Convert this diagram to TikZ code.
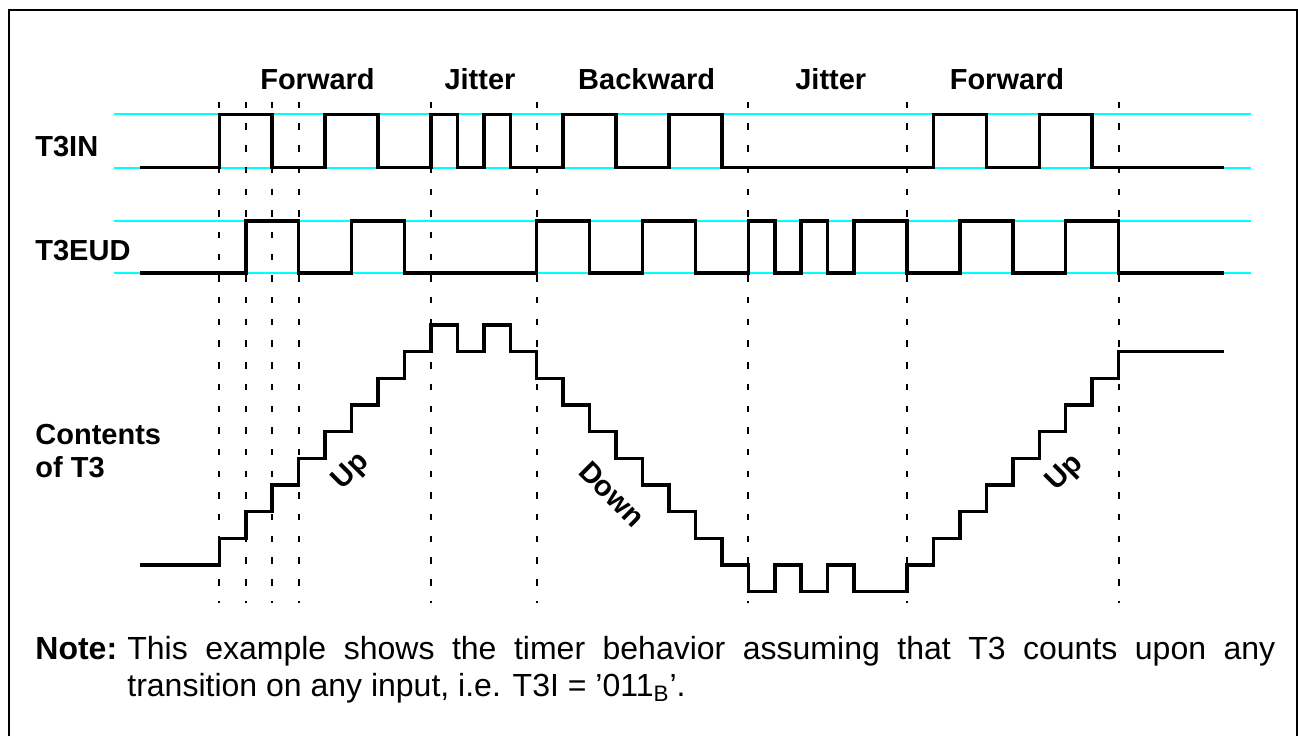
\documentclass[tikz,border=0pt]{standalone}
\usepackage{fontspec}
\setmainfont{Liberation Sans}
\usetikzlibrary{positioning}
\definecolor{guidecyan}{RGB}{0,255,255}

\begin{document}
\begin{tikzpicture}[x=0.5pt, y=-0.5pt,
    signal/.style={line width=1.75pt},
    guide/.style={guidecyan, line width=0.9pt},
    marker/.style={line width=1pt, dash pattern=on 3.2pt off 7.65pt},
    label/.style={font=\fontsize{14.5pt}{17pt}\selectfont\bfseries, inner sep=0pt},
    notebold/.style={font=\fontsize{16pt}{18pt}\selectfont\bfseries, inner sep=0pt},
    notetext/.style={font=\fontsize{16pt}{18pt}\selectfont, inner sep=0pt}
]
    % Canvas and frame
    \path[use as bounding box, fill=white] (0,0) rectangle (1298,736);
    \draw[line width=1pt] (9,736) -- (9,10) -- (1296.5,10) -- (1296.5,736);

    % Phase headings
    \node[label, anchor=base] (fwdA) at (317.5,89) {Forward};
    \node[label, anchor=base] (jitA) at (480,89) {Jitter};
    \node[label, anchor=base] (bwd)  at (646.7,89) {Backward};
    \node[label, anchor=base] (jitB) at (830.8,89) {Jitter};
    \node[label, anchor=base] (fwdB) at (1007,89) {Forward};

    % Signal names
    \node[label, anchor=base west] (nameIN)   at (35,156) {T3IN};
    \node[label, anchor=base west] (nameEUD)  at (35,260) {T3EUD};
    \node[label, anchor=base west] (nameCntA) at (35,444) {Contents};
    \node[label, anchor=base west] (nameCntB) at (35,477) {of T3};

    % Count direction
    \node[label, rotate=45]  (dirUpA) at (351.7,471.7) {Up};
    \node[label, rotate=-45] (dirDown) at (612,494) {Down};
    \node[label, rotate=45]  (dirUpB) at (1065,473.3) {Up};

    \begin{scope}[shift={(219.3,565)}, x=13.225pt, y=13.335pt]
        % Guide levels
        \foreach \lvl in {10.94, 12.9, 14.9, 16.9}
            \draw[guide] (-4,\lvl) -- (39,\lvl);

        % Event markers
        \foreach \t in {0,1,2,3,8,12,20,26,34}
            \draw[marker] (\t,17.37) -- (\t,-1.42);

        % T3IN
        \draw[signal] (-3,14.9)
            \foreach \a/\b in {0/2, 4/6, 8/9, 10/11, 13/15, 17/19, 27/29, 31/33}
                { -- (\a,14.9) -- (\a,16.9) -- (\b,16.9) -- (\b,14.9) }
            -- (38,14.9);

        % T3EUD
        \draw[signal] (-3,10.94)
            \foreach \a/\b in {1/3, 5/7, 12/14, 16/18, 20/21, 22/23, 24/26, 28/30, 32/34}
                { -- (\a,10.94) -- (\a,12.9) -- (\b,12.9) -- (\b,10.94) }
            -- (38,10.94);

        % Contents of T3
        \draw[signal] (-3,0)
            \foreach \t/\c in {0/1, 1/2, 2/3, 3/4, 4/5, 5/6, 6/7, 7/8, 8/9, 9/8, 10/9, 11/8,
                               12/7, 13/6, 14/5, 15/4, 16/3, 17/2, 18/1, 19/0, 20/-1, 21/0,
                               22/-1, 23/0, 24/-1, 26/0, 27/1, 28/2, 29/3, 30/4, 31/5,
                               32/6, 33/7, 34/8}
                { -| (\t,\c) }
            -- (38,8);
    \end{scope}

    % Note
    \node[notebold, anchor=base west] (noteHead) at (35,659) {Note:};
    \node[notetext, anchor=base west] (noteLineA) at (127,659)
        {\makebox[574pt][s]{This example shows the timer behavior assuming that T3 counts upon any}};
    \node[notetext, anchor=base west] (noteLineB) at (noteLineA.base west |- 0,696)
        {transition on any input, i.e. T3I = ’011\textsubscript{B}’.};
\end{tikzpicture}
\end{document}
